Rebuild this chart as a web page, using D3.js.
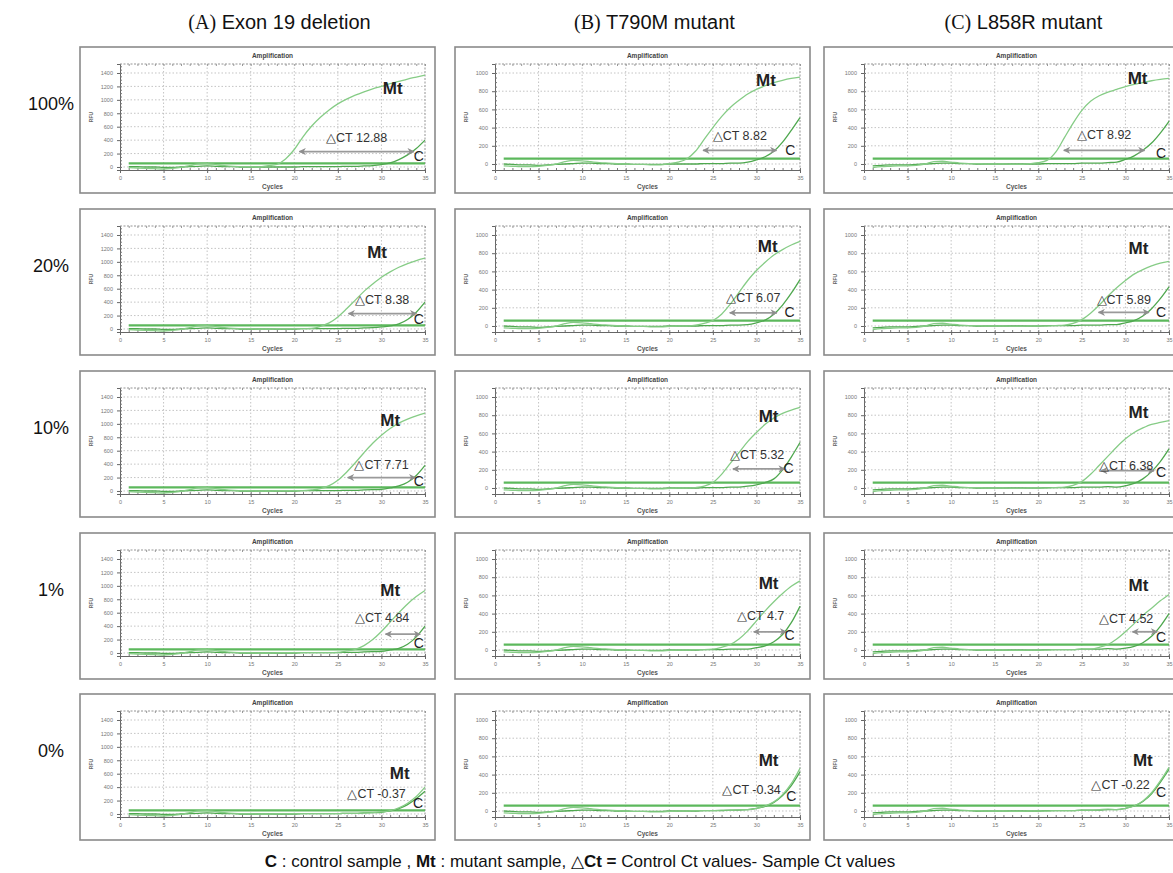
<!DOCTYPE html>
<html>
<head>
<meta charset="utf-8">
<script src="https://cdn.jsdelivr.net/npm/d3@7"></script>
<style>
  body { margin: 0; background: #fff; }
  text { font-family: "Liberation Sans", Arial, sans-serif; }
</style>
</head>
<body>
<svg id="chart" width="1173" height="873"></svg>
<script>
// ---- data ----
const colLetters = ["(A)", "(B)", "(C)"];
const colNames = ["Exon 19 deletion", "T790M mutant", "L858R mutant"];
const rowLabels = ["100%", "20%", "10%", "1%", "0%"];

const xTicks = [0, 5, 10, 15, 20, 25, 30, 35];
const yTicksA = [0, 200, 400, 600, 800, 1000, 1200, 1400];
const yTicksBC = [0, 200, 400, 600, 800, 1000];
const yTicks = [yTicksA, yTicksBC, yTicksBC];

// delta Ct per column (A,B,C) and row (100%,20%,10%,1%,0%)
const deltaCt = [
  [12.88, 8.38, 7.71, 4.84, -0.37],
  [8.82, 6.07, 5.32, 4.7, -0.34],
  [8.92, 5.89, 6.38, 4.52, -0.22]
];

// threshold RFU per column
const thresholds = [55, 60, 60];

// baseline RFU for cycles 1..29 (per column)
const baseMt = [
  [-10, -15, -20, -25, -30, -20, -5, 20, 45, 50, 35, 20, 10, 5, 5, 0, 0, 5, 5, 5, 5, 5, 5, 5, 5, 10, 10, 15, 20],
  [-20, -25, -30, -30, -25, -15, 0, 25, 40, 35, 25, 15, 10, 5, 0, -5, -5, -10, -10, -5, 0, 0, 5, 5, 5, 10, 10, 15, 20],
  [-40, -30, -25, -20, -20, -15, 0, 25, 30, 20, 10, 5, 5, 0, 0, 0, -5, -5, 0, 0, 0, 5, 5, 5, 10, 10, 15, 20, 25]
];
const baseC = [
  [5, 5, 0, 0, -5, -5, 0, 5, 10, 15, 10, 5, 5, 0, 0, 0, 0, 0, 0, 0, 5, 5, 5, 5, 5, 10, 10, 15, 20],
  [0, -5, -10, -10, -15, -10, -5, 0, 5, 10, 10, 5, 5, 0, 0, -5, -5, -5, -5, 0, 0, 0, 0, 5, 5, 5, 10, 10, 15],
  [-20, -15, -10, -10, -10, -5, 0, 5, 10, 10, 5, 5, 0, 0, 0, 0, 0, 0, 0, 0, 5, 5, 5, 5, 10, 10, 10, 15, 15]
];

// mutant curve: first cycle of the rise and RFU from there up to cycle 35
const mtStart = [
  [17, 22, 22, 25, 30],
  [20, 23, 23, 25, 29],
  [19, 23, 23, 26, 29]
];
const mtRise = [
  [
    [20, 40, 120, 260, 450, 610, 740, 850, 940, 1010, 1070, 1120, 1165, 1200, 1240, 1275, 1310, 1340, 1370],
    [10, 40, 90, 180, 300, 430, 560, 670, 770, 850, 920, 975, 1020, 1055],
    [15, 35, 80, 160, 280, 420, 570, 710, 830, 930, 1010, 1070, 1120, 1160],
    [10, 30, 55, 110, 200, 320, 460, 600, 730, 840, 930],
    [30, 50, 90, 160, 260, 400]
  ],
  [
    [5, 20, 55, 140, 270, 400, 520, 620, 700, 770, 820, 860, 895, 920, 940, 955],
    [10, 30, 60, 130, 240, 370, 500, 610, 700, 780, 840, 890, 930],
    [5, 20, 60, 150, 270, 390, 510, 610, 700, 770, 820, 855, 885],
    [10, 30, 60, 120, 210, 320, 430, 530, 620, 700, 760],
    [15, 30, 55, 100, 180, 300, 470]
  ],
  [
    [5, 15, 40, 130, 290, 450, 590, 690, 750, 790, 820, 850, 875, 895, 915, 930, 940],
    [10, 30, 70, 140, 230, 330, 420, 500, 570, 620, 660, 690, 710],
    [10, 30, 70, 150, 250, 350, 450, 540, 610, 660, 700, 720, 740],
    [10, 30, 60, 120, 200, 290, 380, 460, 540, 610],
    [15, 30, 55, 110, 200, 330, 480]
  ]
];

// control curve: first cycle of the rise and RFU up to cycle 35
const cStart = [
  [29, 30, 30, 30, 30],
  [29, 29, 28, 29, 29],
  [29, 29, 29, 29, 29]
];
const cRise = [
  [
    [20, 35, 60, 110, 180, 275, 400],
    [30, 45, 75, 140, 250, 400],
    [25, 45, 75, 130, 230, 380],
    [25, 45, 70, 130, 240, 400],
    [25, 45, 80, 140, 230, 340]
  ],
  [
    [20, 45, 80, 140, 240, 370, 510],
    [15, 35, 65, 130, 230, 360, 510],
    [10, 20, 35, 60, 100, 200, 340, 500],
    [10, 25, 45, 90, 170, 300, 480],
    [15, 30, 50, 95, 170, 280, 430]
  ],
  [
    [20, 50, 90, 150, 230, 340, 470],
    [15, 35, 60, 110, 190, 300, 430],
    [10, 25, 50, 100, 180, 290, 430],
    [10, 20, 40, 80, 150, 260, 400],
    [15, 30, 55, 105, 190, 315, 460]
  ]
];

// annotation anchors in data units [cycle, RFU]
const arrowRfu = [[230, 230, 200, 280, null], [150, 145, 210, 200, null], [150, 150, 190, 200, null]];
const dctTextRfu = [[440, 433, 400, 520, 300], [313, 308, 368, 374, 235], [321, 286, 242, 350, 290]];
const mtLabelAt = [
  [[31.3, 1170], [29.5, 1150], [31, 1060], [31, 940], [32.1, 610]],
  [[31.1, 920], [31.3, 880], [31.4, 790], [31.4, 736], [31.4, 560]],
  [[31.4, 945], [31.5, 857], [31.5, 835], [31.5, 714], [32, 560]]
];
const cLabelAt = [
  [[34.3, 166], [34.3, 150], [34.3, 150], [34.3, 140], [34.2, 155]],
  [[33.9, 151], [33.8, 150], [33.7, 220], [33.8, 160], [34.0, 165]],
  [[34.1, 123], [34.1, 150], [34.1, 180], [34.1, 140], [34.1, 205]]
];

// ---- layout ----
const svg = d3.select("#chart");
const boxW = 355, boxH = 146;
const boxX = [80, 455, 824];
const boxY = [47, 209, 371, 533, 694];
const yDomain = [[-45, 1534], [-66, 1099], [-66, 1099]];

const defs = svg.append("defs");
defs.append("marker")
  .attr("id", "ah")
  .attr("viewBox", "0 0 10 10")
  .attr("refX", 9).attr("refY", 5)
  .attr("markerWidth", 4).attr("markerHeight", 4)
  .attr("orient", "auto-start-reverse")
  .append("path")
  .attr("d", "M0,0 L10,5 L0,10 L3,5 Z")
  .attr("fill", "#8e8e8e");

function series(base, start, rise) {
  const pts = [];
  for (let c = 1; c < start; c++) pts.push([c, base[c - 1]]);
  rise.forEach((v, i) => pts.push([start + i, v]));
  return pts;
}

// first cycle where the curve reaches a level (after its rise begins)
function crossing(pts, level, from) {
  for (let i = 1; i < pts.length; i++) {
    const a = pts[i - 1], b = pts[i];
    if (b[0] >= from && a[1] < level && b[1] >= level) {
      return a[0] + (level - a[1]) / (b[1] - a[1]) * (b[0] - a[0]);
    }
  }
  return pts[pts.length - 1][0];
}

function panel(ci, ri) {
  const g = svg.append("g").attr("transform", "translate(" + boxX[ci] + "," + boxY[ri] + ")");

  g.append("rect")
    .attr("width", boxW).attr("height", boxH)
    .attr("fill", "#fff").attr("stroke", "#8a8a8a").attr("stroke-width", 1.6);

  const x = d3.scaleLinear().domain([0, 35]).range([40, 345]);
  const y = d3.scaleLinear().domain(yDomain[ci]).range([123, 17]);

  g.append("text")
    .attr("x", (x.range()[0] + x.range()[1]) / 2).attr("y", 11)
    .attr("text-anchor", "middle")
    .attr("font-size", 6.5).attr("font-weight", "bold").attr("fill", "#444")
    .text("Amplification");

  // grid
  g.append("g").selectAll("line.h")
    .data(yTicks[ci])
    .join("line")
    .attr("x1", x(0)).attr("x2", x(35))
    .attr("y1", d => y(d)).attr("y2", d => y(d))
    .attr("stroke", "#b5b5b5").attr("stroke-width", 0.8).attr("stroke-dasharray", "1.5,2");
  g.append("g").selectAll("line.v")
    .data(xTicks.slice(1, -1))
    .join("line")
    .attr("x1", d => x(d)).attr("x2", d => x(d))
    .attr("y1", y.range()[1]).attr("y2", y.range()[0])
    .attr("stroke", "#b5b5b5").attr("stroke-width", 0.8).attr("stroke-dasharray", "1.5,2");

  // frame top / right
  g.append("line")
    .attr("x1", x(0)).attr("x2", x(35)).attr("y1", y.range()[1]).attr("y2", y.range()[1])
    .attr("stroke", "#888").attr("stroke-width", 0.9).attr("stroke-dasharray", "2,1.5");
  g.append("line")
    .attr("x1", x(35)).attr("x2", x(35)).attr("y1", y.range()[1]).attr("y2", y.range()[0])
    .attr("stroke", "#888").attr("stroke-width", 0.9).attr("stroke-dasharray", "2,1.5");

  // axes
  const yMinor = d3.range(0, yDomain[ci][1], 50);
  const xMinor = d3.range(1, 36, 1);
  const ya = g.append("g").attr("transform", "translate(" + x(0) + ",0)")
    .call(d3.axisLeft(y).tickValues(yTicks[ci]).tickFormat(d3.format("d")).tickSize(3).tickPadding(4));
  ya.select(".domain").attr("stroke", "#666").attr("stroke-width", 1);
  ya.selectAll(".tick line").attr("stroke", "#666");
  ya.selectAll("text").attr("font-size", 5.5).attr("fill", "#777");
  const ym = g.append("g").attr("transform", "translate(" + x(0) + ",0)")
    .call(d3.axisRight(y).tickValues(yMinor).tickSize(2).tickFormat(""));
  ym.select(".domain").remove();
  ym.selectAll(".tick line").attr("stroke", "#777");

  const xa = g.append("g").attr("transform", "translate(0," + y.range()[0] + ")")
    .call(d3.axisBottom(x).tickValues(xTicks).tickSize(3).tickPadding(3));
  xa.select(".domain").attr("stroke", "#666").attr("stroke-width", 1);
  xa.selectAll(".tick line").attr("stroke", "#666");
  xa.selectAll("text").attr("font-size", 5.5).attr("fill", "#777");
  const xm = g.append("g").attr("transform", "translate(0," + y.range()[0] + ")")
    .call(d3.axisTop(x).tickValues(xMinor).tickSize(2).tickFormat(""));
  xm.select(".domain").remove();
  xm.selectAll(".tick line").attr("stroke", "#777");
  const xt = g.append("g").attr("transform", "translate(0," + y.range()[1] + ")")
    .call(d3.axisBottom(x).tickValues(xMinor).tickSize(2).tickFormat(""));
  xt.select(".domain").remove();
  xt.selectAll(".tick line").attr("stroke", "#999");

  g.append("text")
    .attr("x", (x.range()[0] + x.range()[1]) / 2).attr("y", 142)
    .attr("text-anchor", "middle")
    .attr("font-size", 6.5).attr("font-weight", "bold").attr("fill", "#555")
    .text("Cycles");
  g.append("text")
    .attr("transform", "translate(13," + (y.range()[0] + y.range()[1]) / 2 + ") rotate(-90)")
    .attr("text-anchor", "middle")
    .attr("font-size", 5).attr("font-weight", "bold").attr("fill", "#666")
    .text("RFU");

  // curves
  const line = d3.line()
    .x(d => x(d[0]))
    .y(d => y(d[1]))
    .curve(d3.curveMonotoneX);

  const mt = series(baseMt[ci], mtStart[ci][ri], mtRise[ci][ri]);
  const ctl = series(baseC[ci], cStart[ci][ri], cRise[ci][ri]);

  g.append("path")
    .datum([[1, thresholds[ci]], [35, thresholds[ci]]])
    .attr("d", line)
    .attr("fill", "none").attr("stroke", "#5cb85c").attr("stroke-width", 2.2);
  g.append("path")
    .datum(ctl)
    .attr("d", line)
    .attr("fill", "none").attr("stroke", "#4fa84f").attr("stroke-width", 1.3);
  g.append("path")
    .datum(mt)
    .attr("d", line)
    .attr("fill", "none").attr("stroke", "#86cc86").attr("stroke-width", 1.3);

  // annotations
  const label = "\u25B3CT " + deltaCt[ci][ri];
  let center = null;
  if (arrowRfu[ci][ri] !== null) {
    const lv = arrowRfu[ci][ri];
    const x1 = crossing(mt, lv, mtStart[ci][ri]) + 0.8;
    const x2 = crossing(ctl, lv, cStart[ci][ri]) + 0.2;
    center = (x1 + x2) / 2;
    g.append("line")
      .attr("x1", x(x1)).attr("x2", x(x2))
      .attr("y1", y(lv)).attr("y2", y(lv))
      .attr("stroke", "#9a9a9a").attr("stroke-width", 1.8)
      .attr("marker-start", "url(#ah)").attr("marker-end", "url(#ah)");
  }
  const t = g.append("text")
    .attr("y", y(dctTextRfu[ci][ri]))
    .attr("dy", "0.35em")
    .attr("font-size", 12.5).attr("fill", "#333")
    .text(label);
  const w = t.node().getComputedTextLength();
  let right = x(center === null ? 32.8 : 33.2);
  if (center !== null) right = Math.min(x(center) + w / 2, right);
  t.attr("x", right).attr("text-anchor", "end");

  g.append("text")
    .attr("x", x(mtLabelAt[ci][ri][0])).attr("y", y(mtLabelAt[ci][ri][1]))
    .attr("dy", "0.35em").attr("text-anchor", "middle")
    .attr("font-size", 17).attr("font-weight", "bold").attr("fill", "#222")
    .text("Mt");
  g.append("text")
    .attr("x", x(cLabelAt[ci][ri][0])).attr("y", y(cLabelAt[ci][ri][1]))
    .attr("dy", "0.35em").attr("text-anchor", "middle")
    .attr("font-size", 14).attr("fill", "#222")
    .text("C");
}

for (let ci = 0; ci < 3; ci++) {
  for (let ri = 0; ri < 5; ri++) panel(ci, ri);
}

// column headers
colNames.forEach((name, ci) => {
  const t = svg.append("text")
    .attr("x", boxX[ci] + boxW / 2 + 22).attr("y", 29)
    .attr("text-anchor", "middle").attr("font-size", 20).attr("fill", "#111");
  t.append("tspan").attr("font-family", "'Liberation Serif', 'Times New Roman', serif").text(colLetters[ci]);
  t.append("tspan").text(" " + name);
});

// row labels
rowLabels.forEach((lab, ri) => {
  svg.append("text")
    .attr("x", 51).attr("y", boxY[ri] + 57)
    .attr("dy", "0.35em").attr("text-anchor", "middle")
    .attr("font-size", 18).attr("fill", "#111")
    .text(lab);
});

// caption
const cap = svg.append("text")
  .attr("x", 580).attr("y", 867)
  .attr("text-anchor", "middle").attr("font-size", 17).attr("fill", "#111");
cap.append("tspan").attr("font-weight", "bold").text("C");
cap.append("tspan").text(" : control sample , ");
cap.append("tspan").attr("font-weight", "bold").text("Mt");
cap.append("tspan").text(" : mutant sample, \u25B3");
cap.append("tspan").attr("font-weight", "bold").text("Ct =");
cap.append("tspan").text(" Control Ct values- Sample Ct values");
</script>
</body>
</html>
